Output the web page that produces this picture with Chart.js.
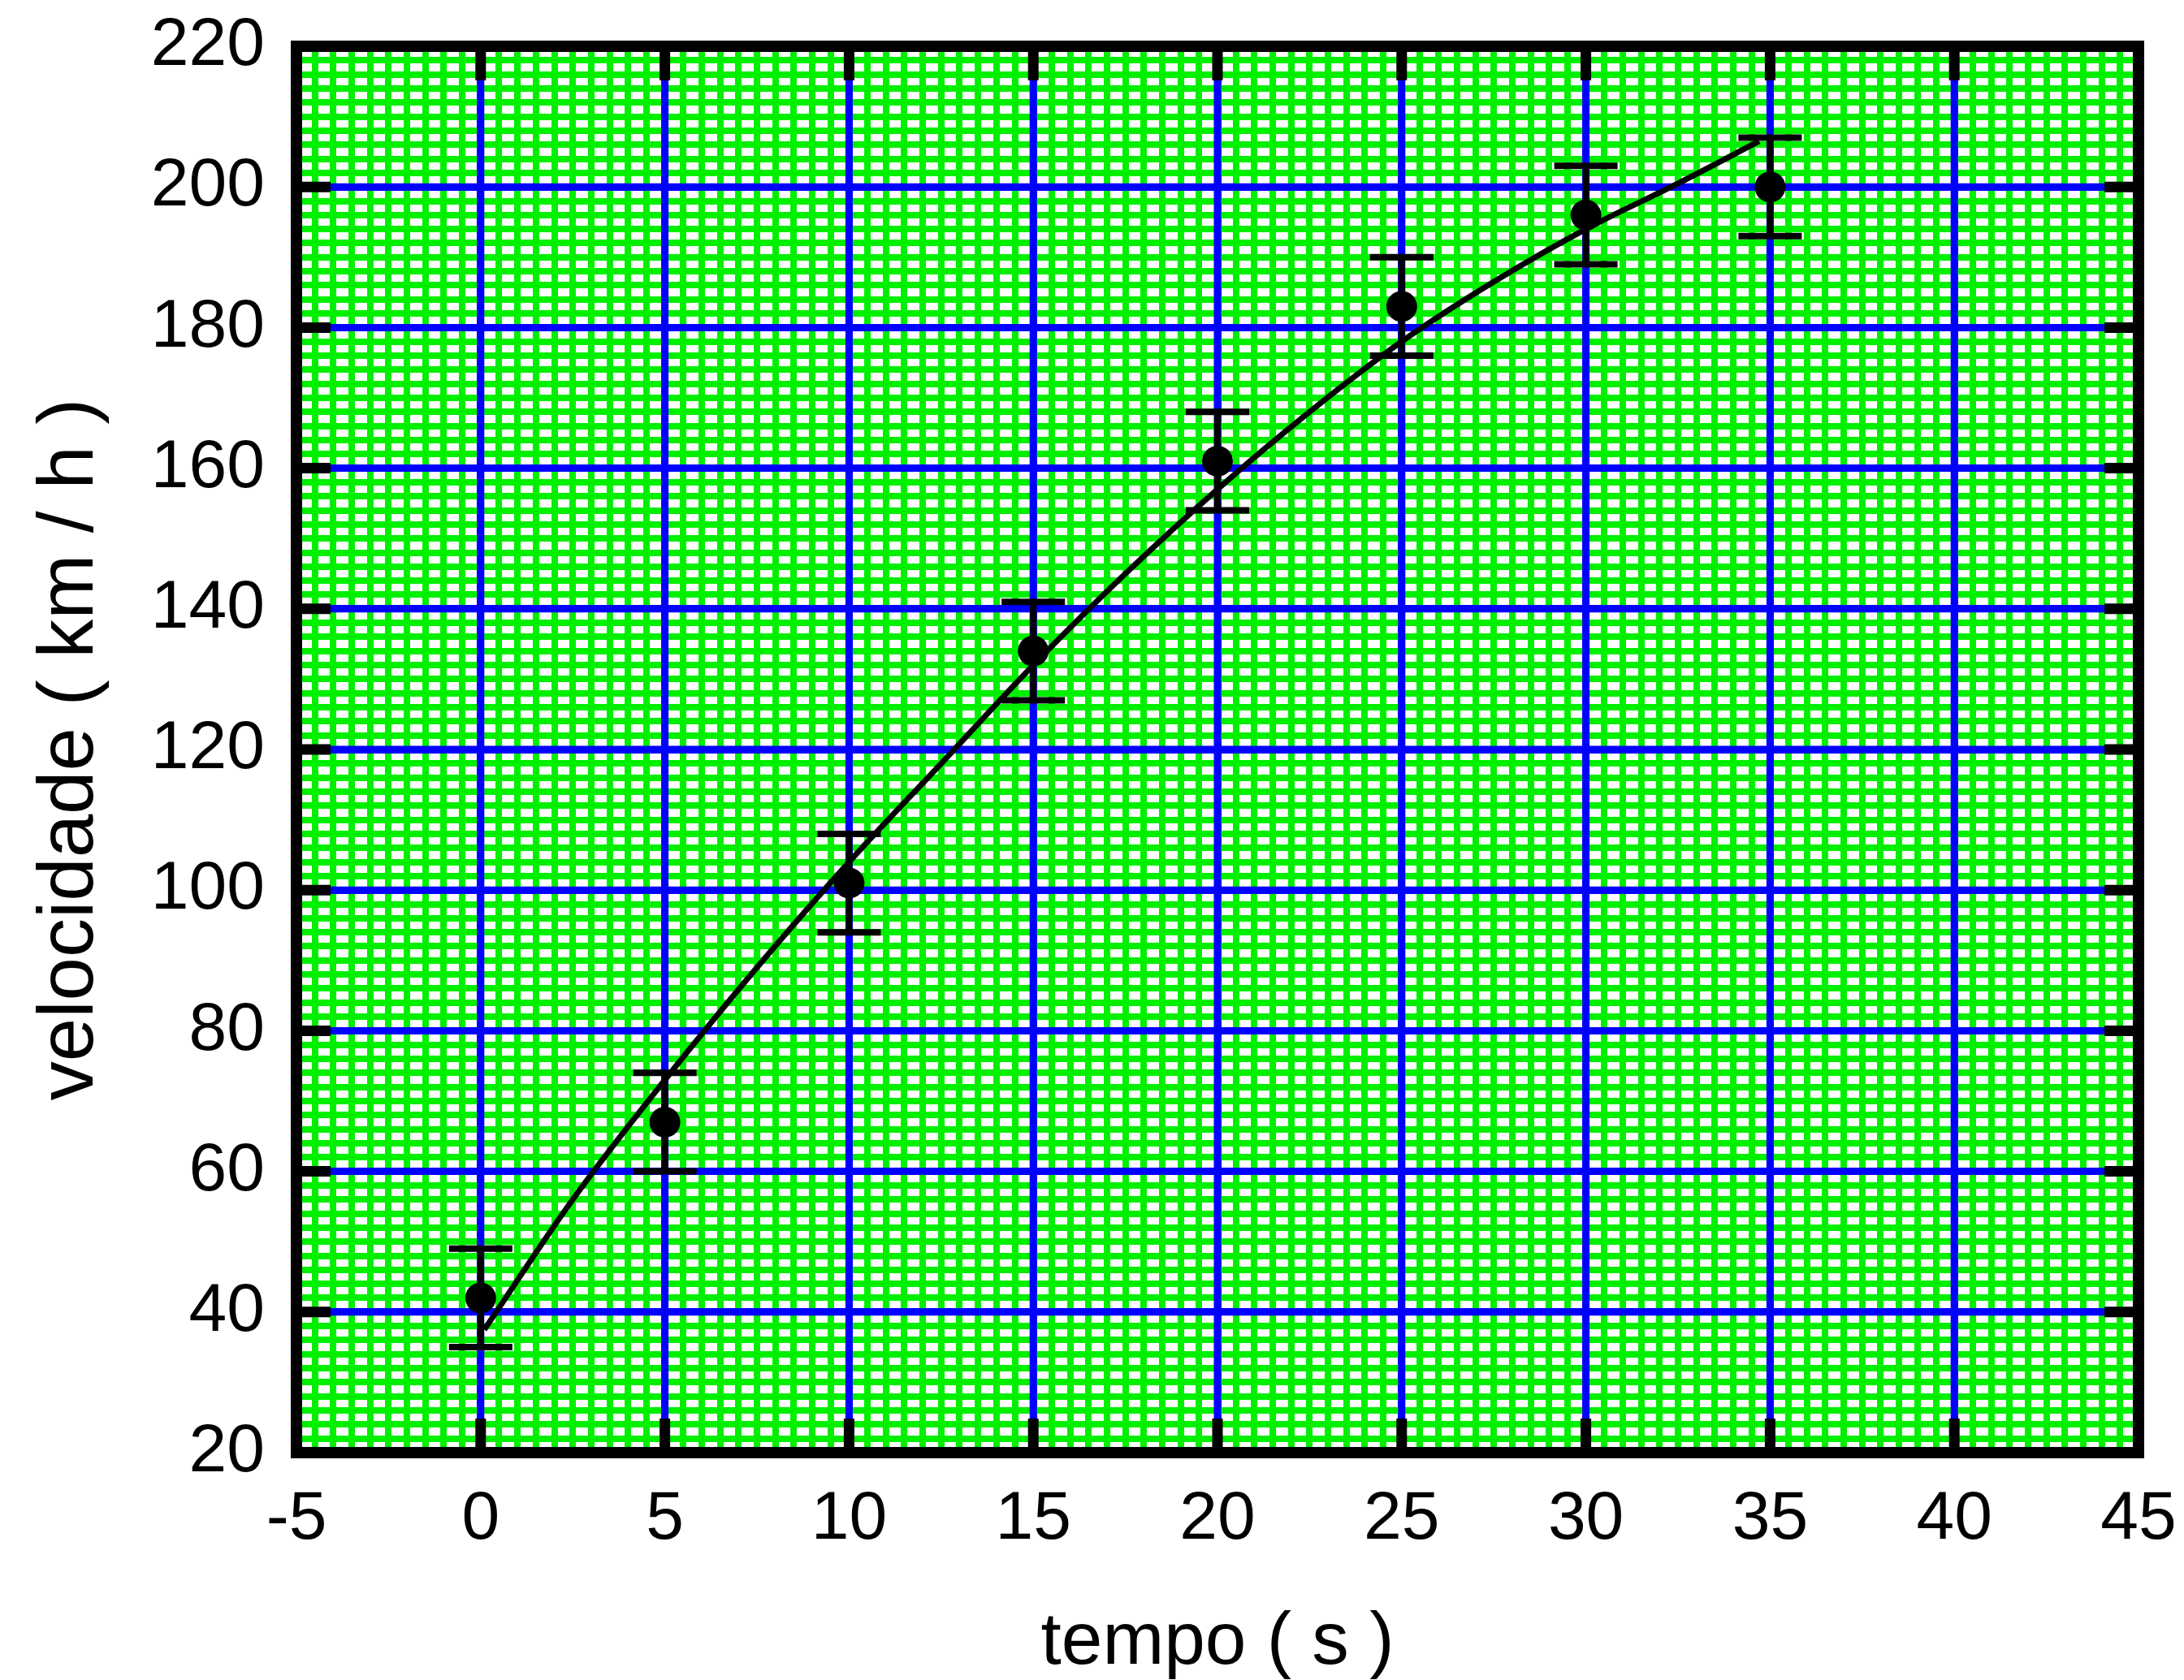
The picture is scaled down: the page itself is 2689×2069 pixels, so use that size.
<!DOCTYPE html>
<html>
<head>
<meta charset="utf-8">
<script src="https://cdn.jsdelivr.net/npm/chart.js@4.4.0/dist/chart.umd.min.js"></script>
<style>
  html, body { margin: 0; padding: 0; background: #fff; }
  #wrap { width: 2689px; height: 2069px; }
</style>
</head>
<body>
<div id="wrap"><canvas id="grafico"></canvas></div>
<script>
// measured points (t in s, v in km/h) with their error bars
const tempo = [0, 5, 10, 15, 20, 25, 30, 35];
const velocidade = [42, 67, 101, 134, 161, 183, 196, 200];
const erro = [7, 7, 7, 7, 7, 7, 7, 7];

// fitted curve
const ajusteTempo = [0.1, 2.5, 5, 7.5, 10, 12.5, 15, 17.5, 20, 22.5, 25, 27.5, 30, 32.5, 34.7];
const ajusteVel = [37.5, 56, 73, 89, 104, 118, 132, 145, 157, 168, 178, 186.5, 194, 200.5, 206.5];

// axis ranges
const xMin = -5, xMax = 45, xMajor = 5, xMinor = 0.5;
const yMin = 20, yMax = 220, yMajor = 20, yMinor = 2;

const FONT = "'Liberation Sans', Arial, sans-serif";
const GREEN = '#00f000';
const BLUE = '#0000ff';

const isMajor = (v, step) => Math.abs(v / step - Math.round(v / step)) < 1e-6;

const graphPaper = {
  id: 'graphPaper',
  beforeDatasetsDraw(chart) {
    const { ctx, chartArea: a, scales: { x, y } } = chart;
    ctx.save();
    // blue major lines on top of the fine green grid
    ctx.strokeStyle = BLUE;
    ctx.lineWidth = 9;
    ctx.beginPath();
    y.ticks.forEach(t => {
      if (!isMajor(t.value, yMajor)) return;
      const py = y.getPixelForValue(t.value);
      ctx.moveTo(a.left, py); ctx.lineTo(a.right, py);
    });
    x.ticks.forEach(t => {
      if (!isMajor(t.value, xMajor)) return;
      const px = x.getPixelForValue(t.value);
      ctx.moveTo(px, a.top); ctx.lineTo(px, a.bottom);
    });
    ctx.stroke();

    // error bars
    ctx.strokeStyle = '#000';
    ctx.lineWidth = 8;
    ctx.beginPath();
    tempo.forEach((t, i) => {
      const px = x.getPixelForValue(t);
      const hi = y.getPixelForValue(velocidade[i] + erro[i]);
      const lo = y.getPixelForValue(velocidade[i] - erro[i]);
      ctx.moveTo(px, hi); ctx.lineTo(px, lo);
      ctx.moveTo(px - 39, hi); ctx.lineTo(px + 39, hi);
      ctx.moveTo(px - 39, lo); ctx.lineTo(px + 39, lo);
    });
    ctx.stroke();
    ctx.restore();
  },
  afterDraw(chart) {
    const { ctx, chartArea: a, scales: { x, y } } = chart;
    ctx.save();
    ctx.strokeStyle = '#000';
    // inward tick marks on all four sides
    ctx.lineWidth = 13;
    ctx.beginPath();
    const len = 42;
    x.ticks.forEach(t => {
      if (!isMajor(t.value, xMajor) || t.value === xMin || t.value === xMax) return;
      const px = x.getPixelForValue(t.value);
      ctx.moveTo(px, a.bottom); ctx.lineTo(px, a.bottom - len);
      ctx.moveTo(px, a.top); ctx.lineTo(px, a.top + len);
    });
    y.ticks.forEach(t => {
      if (!isMajor(t.value, yMajor) || t.value === yMin || t.value === yMax) return;
      const py = y.getPixelForValue(t.value);
      ctx.moveTo(a.left, py); ctx.lineTo(a.left + len, py);
      ctx.moveTo(a.right, py); ctx.lineTo(a.right - len, py);
    });
    ctx.stroke();
    // frame
    ctx.lineWidth = 14;
    ctx.strokeRect(a.left, a.top, a.right - a.left, a.bottom - a.top);
    ctx.restore();
  }
};

const gridColor = step => c => isMajor(c.tick.value, step) ? BLUE : GREEN;
const gridWidth = step => c => isMajor(c.tick.value, step) ? 9 : 8;

new Chart(document.getElementById('grafico'), {
  type: 'scatter',
  data: {
    datasets: [
      {
        label: 'medidas',
        data: tempo.map((t, i) => ({ x: t, y: velocidade[i] })),
        backgroundColor: '#000',
        borderWidth: 0,
        pointRadius: 19,
        pointHoverRadius: 19
      },
      {
        label: 'ajuste',
        data: ajusteTempo.map((t, i) => ({ x: t, y: ajusteVel[i] })),
        showLine: true,
        borderColor: '#000',
        borderWidth: 7,
        pointRadius: 0,
        cubicInterpolationMode: 'monotone'
      }
    ]
  },
  options: {
    responsive: true,
    maintainAspectRatio: false,
    animation: false,
    layout: { padding: { top: 57, right: 56, left: 0, bottom: 0 } },
    plugins: {
      legend: { display: false },
      tooltip: { enabled: false }
    },
    scales: {
      x: {
        type: 'linear',
        min: xMin,
        max: xMax,
        afterFit: s => { s.height = 280; s.paddingLeft = 0; s.paddingRight = 0; },
        border: { display: false },
        grid: { color: gridColor(xMajor), lineWidth: gridWidth(xMajor), drawTicks: false },
        ticks: {
          stepSize: xMinor,
          autoSkip: false,
          maxRotation: 0,
          minRotation: 0,
          padding: 32,
          color: '#000',
          font: { family: FONT, size: 84 },
          callback: v => isMajor(v, xMajor) ? String(Math.round(v)) : ''
        },
        title: {
          display: true,
          text: 'tempo ( s )',
          color: '#000',
          font: { family: FONT, size: 91 },
          padding: { top: 0, bottom: -10 }
        }
      },
      y: {
        type: 'linear',
        min: yMin,
        max: yMax,
        afterFit: s => { s.width = 365; s.paddingTop = 0; s.paddingBottom = 0; },
        border: { display: false },
        grid: { color: gridColor(yMajor), lineWidth: gridWidth(yMajor), drawTicks: false },
        ticks: {
          stepSize: yMinor,
          autoSkip: false,
          padding: 39,
          color: '#000',
          font: { family: FONT, size: 84 },
          callback: v => isMajor(v, yMajor) ? String(Math.round(v)) : ''
        },
        title: {
          display: true,
          text: 'velocidade ( km / h )',
          color: '#000',
          font: { family: FONT, size: 96 },
          padding: { top: 30, bottom: 0 }
        }
      }
    }
  },
  plugins: [graphPaper]
});
</script>
</body>
</html>
